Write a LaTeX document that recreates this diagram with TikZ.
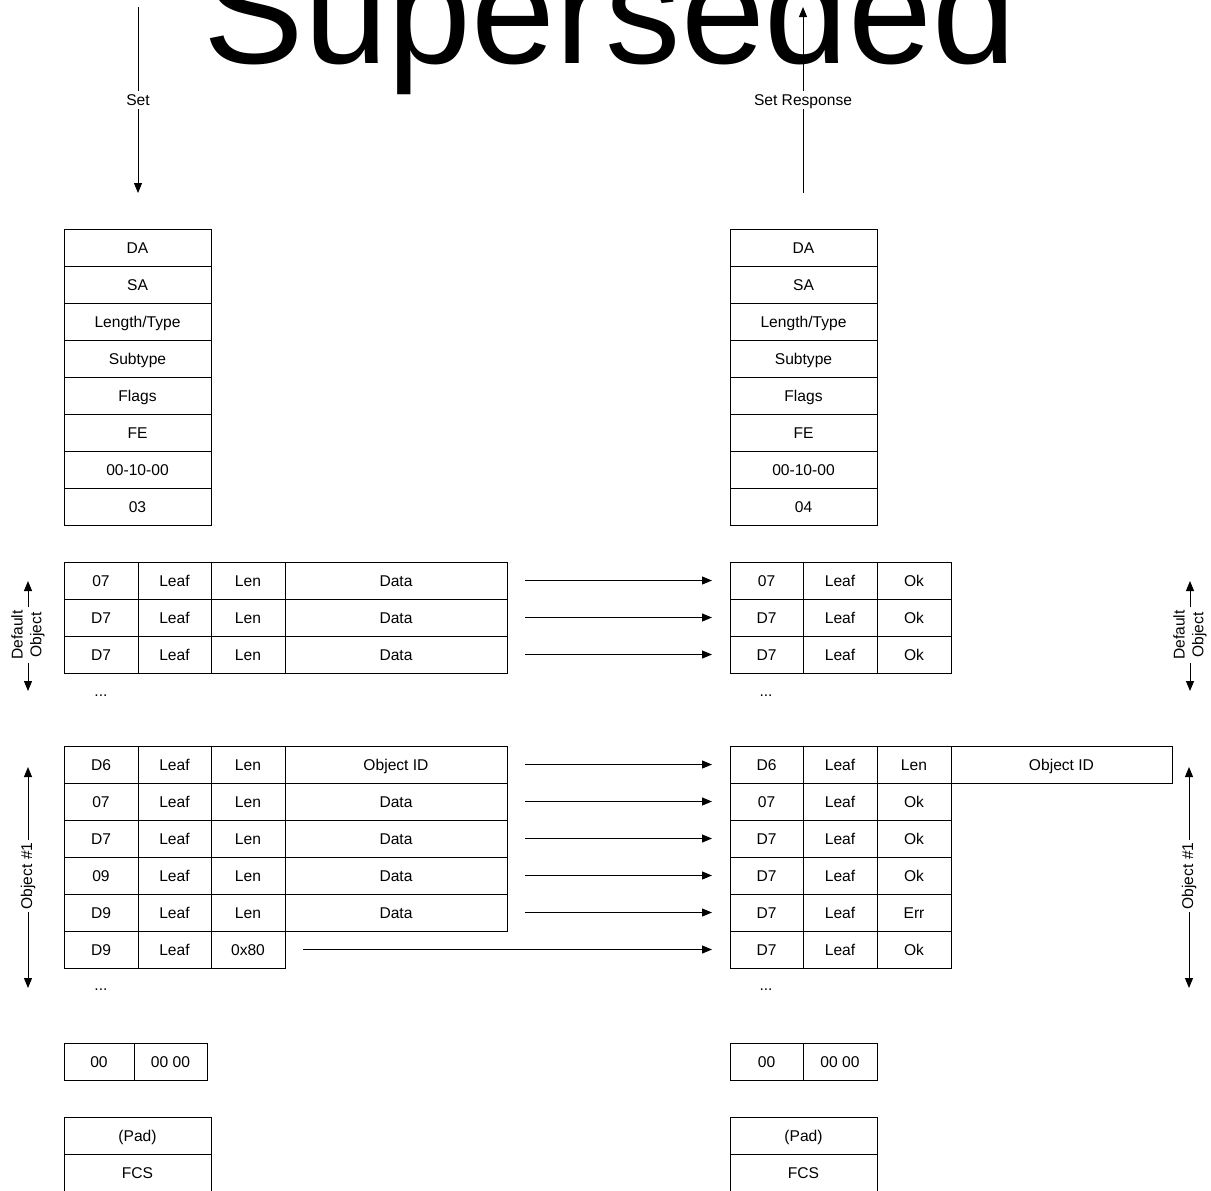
\documentclass[tikz,border=0pt]{standalone}
\usepackage{fontspec}
\setmainfont{Liberation Sans}
\usetikzlibrary{arrows.meta}
\newcommand\lblfont{\fontsize{11.7}{14}\selectfont}
\newcommand\mkcell[5]{\node[cell, minimum width={(#3-#2)*0.75pt}] (#1) at ({(#2+#3)/2},{#4+18.5}) {#5};}
\newcommand\lrow[6]{\mkcell{#1a}{64}{138}{#2}{#3}\mkcell{#1b}{138}{211}{#2}{#4}\mkcell{#1c}{211}{285}{#2}{#5}\mkcell{#1d}{285}{507}{#2}{#6}}
\newcommand\rrow[5]{\mkcell{#1a}{730}{803}{#2}{#3}\mkcell{#1b}{803}{877}{#2}{#4}\mkcell{#1c}{877}{951}{#2}{#5}}
\newcommand\rowarrow[4]{\coordinate (#1s) at (#2,#4); \coordinate (#1e) at (#3,#4); \draw[arr] (#1s) -- (#1e);}
\begin{document}
\begin{tikzpicture}[x=0.75pt,y=-0.75pt,
  cell/.style={draw, line width=0.75pt, inner sep=0pt, minimum height=27.75pt, text height=8.4pt, text depth=0pt, font=\lblfont},
  arr/.style={line width=0.75pt, -{Triangle[length=7.5pt,width=6pt]}},
  lab/.style={font=\lblfont, fill=white, inner sep=2.5pt, text height=8.4pt, text depth=0pt},
  side/.style={font=\lblfont, rotate=90, align=center, inner sep=2pt},
  dots/.style={font=\lblfont, inner sep=0pt, anchor=base}]
\useasboundingbox (0,0) rectangle (1211,1190);
\clip (0,0) rectangle (1211,1190);

% title
\node[anchor=base, inner sep=0pt, font=\fontsize{113}{113}\selectfont] (title) at (610,63) {Superseded};

% Set / Set Response
\coordinate (setA) at (138,7); \coordinate (setB) at (138,193);
\draw[arr] (setA) -- node[lab] {Set} (setB);
\coordinate (srA) at (803,193); \coordinate (srB) at (803,7);
\draw[arr] (srA) -- node[lab] {Set Response} (srB);

% header tables
\mkcell{lh1}{64}{211}{229}{DA}
\mkcell{lh2}{64}{211}{266}{SA}
\mkcell{lh3}{64}{211}{303}{Length/Type}
\mkcell{lh4}{64}{211}{340}{Subtype}
\mkcell{lh5}{64}{211}{377}{Flags}
\mkcell{lh6}{64}{211}{414}{FE}
\mkcell{lh7}{64}{211}{451}{00-10-00}
\mkcell{lh8}{64}{211}{488}{03}
\mkcell{rh1}{730}{877}{229}{DA}
\mkcell{rh2}{730}{877}{266}{SA}
\mkcell{rh3}{730}{877}{303}{Length/Type}
\mkcell{rh4}{730}{877}{340}{Subtype}
\mkcell{rh5}{730}{877}{377}{Flags}
\mkcell{rh6}{730}{877}{414}{FE}
\mkcell{rh7}{730}{877}{451}{00-10-00}
\mkcell{rh8}{730}{877}{488}{04}

% default object
\lrow{ld1}{562}{07}{Leaf}{Len}{Data}
\lrow{ld2}{599}{D7}{Leaf}{Len}{Data}
\lrow{ld3}{636}{D7}{Leaf}{Len}{Data}
\rrow{rd1}{562}{07}{Leaf}{Ok}
\rrow{rd2}{599}{D7}{Leaf}{Ok}
\rrow{rd3}{636}{D7}{Leaf}{Ok}
\rowarrow{ad1}{525}{712}{580.5}
\rowarrow{ad2}{525}{712}{617.5}
\rowarrow{ad3}{525}{712}{654.5}
\node[dots] (ldots1) at (101,696) {...};
\node[dots] (rdots1) at (766,696) {...};

% object #1
\lrow{lo1}{746}{D6}{Leaf}{Len}{Object ID}
\lrow{lo2}{783}{07}{Leaf}{Len}{Data}
\lrow{lo3}{820}{D7}{Leaf}{Len}{Data}
\lrow{lo4}{857}{09}{Leaf}{Len}{Data}
\lrow{lo5}{894}{D9}{Leaf}{Len}{Data}
\mkcell{lo6a}{64}{138}{931}{D9}
\mkcell{lo6b}{138}{211}{931}{Leaf}
\mkcell{lo6c}{211}{285}{931}{0x80}
\rrow{ro1}{746}{D6}{Leaf}{Len}
\mkcell{ro1d}{951}{1172}{746}{Object ID}
\rrow{ro2}{783}{07}{Leaf}{Ok}
\rrow{ro3}{820}{D7}{Leaf}{Ok}
\rrow{ro4}{857}{D7}{Leaf}{Ok}
\rrow{ro5}{894}{D7}{Leaf}{Err}
\rrow{ro6}{931}{D7}{Leaf}{Ok}
\rowarrow{ao1}{525}{712}{764.5}
\rowarrow{ao2}{525}{712}{801.5}
\rowarrow{ao3}{525}{712}{838.5}
\rowarrow{ao4}{525}{712}{875.5}
\rowarrow{ao5}{525}{712}{912.5}
\rowarrow{ao6}{303}{712}{949.5}
\node[dots] (ldots2) at (101,990) {...};
\node[dots] (rdots2) at (766,990) {...};

% end markers
\mkcell{le1}{64}{134}{1043}{00}
\mkcell{le2}{134}{207}{1043}{00 00}
\mkcell{re1}{730}{803}{1043}{00}
\mkcell{re2}{803}{877}{1043}{00 00}

% pad / fcs
\mkcell{lp}{64}{211}{1117}{(Pad)}
\mkcell{lf}{64}{211}{1154}{FCS}
\mkcell{rp}{730}{877}{1117}{(Pad)}
\mkcell{rf}{730}{877}{1154}{FCS}

% side labels
\node[side] (sdl) at (28,635) {Default\\Object};
\coordinate (sdlT) at (28,581); \coordinate (sdlB) at (28,691);
\draw[arr] (sdl.east) -- (sdlT); \draw[arr] (sdl.west) -- (sdlB);
\node[side] (sdr) at (1190,635) {Default\\Object};
\coordinate (sdrT) at (1190,581); \coordinate (sdrB) at (1190,691);
\draw[arr] (sdr.east) -- (sdrT); \draw[arr] (sdr.west) -- (sdrB);
\node[side] (sol) at (28,876) {Object \#1};
\coordinate (solT) at (28,767); \coordinate (solB) at (28,988);
\draw[arr] (sol.east) -- (solT); \draw[arr] (sol.west) -- (solB);
\node[side] (sor) at (1189,876) {Object \#1};
\coordinate (sorT) at (1189,767); \coordinate (sorB) at (1189,988);
\draw[arr] (sor.east) -- (sorT); \draw[arr] (sor.west) -- (sorB);
\end{tikzpicture}
\end{document}
